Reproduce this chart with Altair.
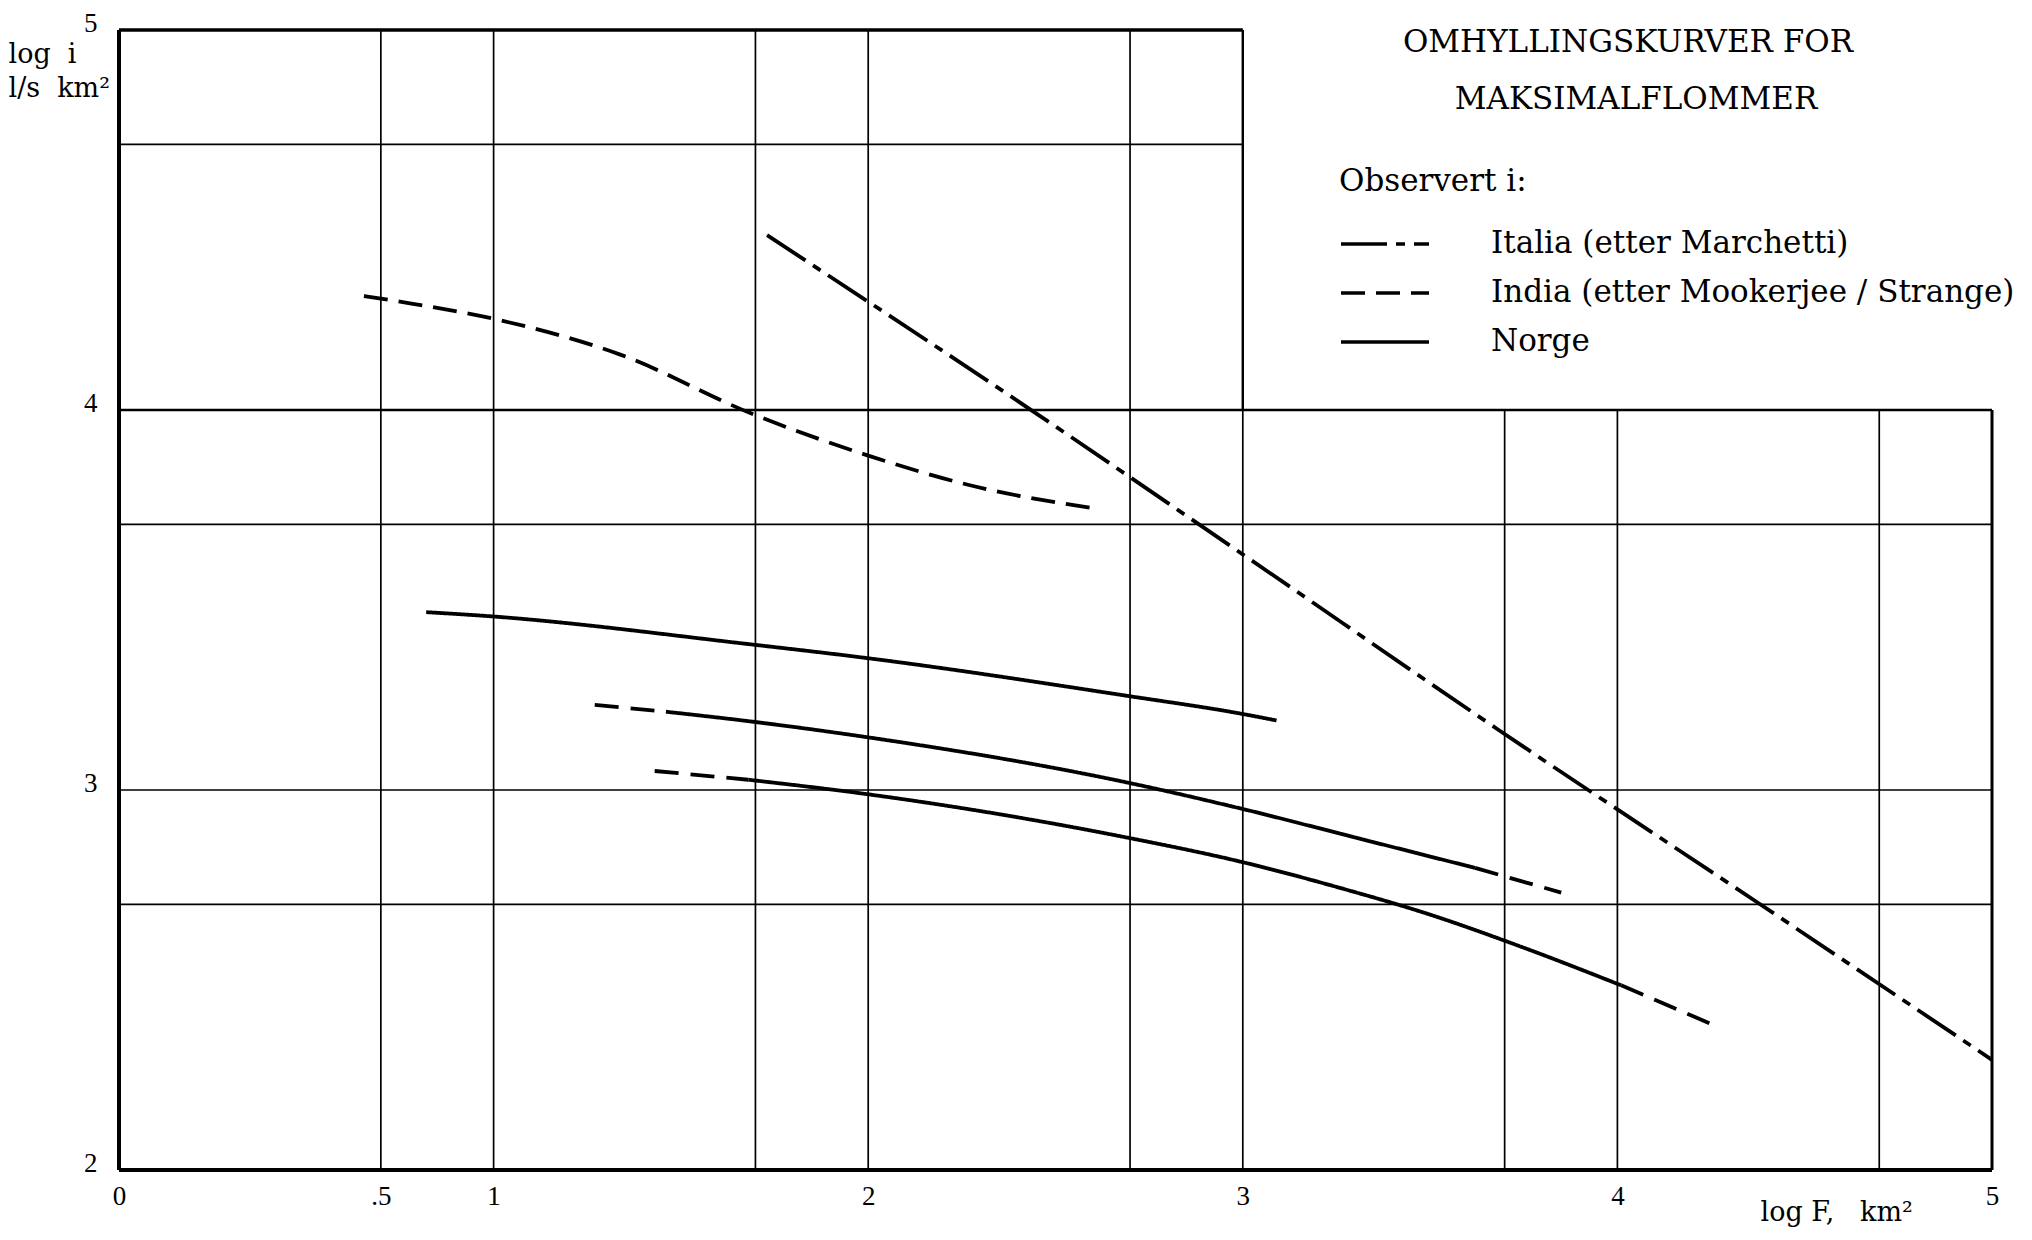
import altair as alt
import pandas as pd

# ---------------- axis ticks and grid (log F, log i) ----------------
x_tick_values = [0, 0.699, 1, 2, 3, 4, 5]
x_tick_labels = ["0", ".5", "1", "2", "3", "4", "5"]
y_tick_values = [2, 3, 4, 5]

grid_x_full = [0.699, 1, 1.699, 2, 2.699, 3]   # vertical lines, log i 2..5
grid_x_lower = [3.699, 4, 4.699]               # vertical lines, log i 2..4
grid_y_full = [2.699, 3, 3.699]                # horizontal lines, log F 0..5
grid_y_upper = [4.699]                         # horizontal line, log F 0..3

# ---------------- curves ----------------
series_names = ["Italia (etter Marchetti)", "India (etter Mookerjee / Strange)", "Norge"]

italia_x = [1.73, 2.45, 3.00, 3.68, 4.38, 5.00]
italia_y = [4.46, 3.99, 3.62, 3.16, 2.70, 2.29]

india_x = [0.654, 0.75, 1.0, 1.34, 1.69, 2.0, 2.28, 2.61]
india_y = [4.30, 4.285, 4.24, 4.145, 3.99, 3.88, 3.80, 3.74]

norge1_x = [0.82, 0.98, 1.68, 1.99, 2.69, 3.00, 3.09]
norge1_y = [3.468, 3.458, 3.384, 3.348, 3.248, 3.20, 3.183]

norge2_x = [1.46, 1.69, 1.99, 2.69, 3.00, 3.30, 3.62]
norge2_y = [3.206, 3.18, 3.14, 3.02, 2.95, 2.875, 2.795]
norge2_start_x = [1.27, 1.46]
norge2_start_y = [3.224, 3.206]
norge2_end_x = [3.62, 3.85]
norge2_end_y = [2.795, 2.73]

norge3_x = [1.68, 1.99, 2.69, 3.00, 3.25, 3.50, 3.75, 4.01]
norge3_y = [3.027, 2.99, 2.875, 2.81, 2.745, 2.672, 2.585, 2.486]
norge3_start_x = [1.43, 1.68]
norge3_start_y = [3.05, 3.027]
norge3_end_x = [4.01, 4.27]
norge3_end_y = [2.486, 2.376]

title_lines = ["OMHYLLINGSKURVER FOR", "MAKSIMALFLOMMER"]
NB = "\u00a0"
y_title_lines = ["log" + NB * 2 + "i", "l/s" + NB * 2 + "km²"]
x_title = "log" + NB + "F," + NB * 3 + "km²"


def frame(xs_, ys_, serie, kurve):
    return pd.DataFrame({"x": xs_, "y": ys_, "serie": serie, "kurve": kurve})


curves = pd.concat([
    frame(italia_x, italia_y, series_names[0], "italia"),
    frame(india_x, india_y, series_names[1], "india"),
    frame(norge1_x, norge1_y, series_names[2], "norge1"),
    frame(norge2_x, norge2_y, series_names[2], "norge2"),
    frame(norge3_x, norge3_y, series_names[2], "norge3"),
], ignore_index=True)

extensions = pd.concat([
    frame(norge2_start_x, norge2_start_y, series_names[2], "n2a"),
    frame(norge2_end_x, norge2_end_y, series_names[2], "n2b"),
    frame(norge3_start_x, norge3_start_y, series_names[2], "n3a"),
    frame(norge3_end_x, norge3_end_y, series_names[2], "n3b"),
], ignore_index=True)

# ---------------- scales / axes ----------------
xs = alt.Scale(domain=[0, 5], nice=False, zero=False)
ys = alt.Scale(domain=[2, 5], nice=False, zero=False)

label_expr = "datum.label"
for v, l in reversed(list(zip(x_tick_values, x_tick_labels))):
    label_expr = f"(abs(datum.value - {v}) < 0.001 ? '{l}' : {label_expr})"

x_axis = alt.Axis(
    values=x_tick_values, labelExpr=label_expr,
    grid=False, domain=False, ticks=False, labelFlush=False,
    labelFont="Liberation Serif", labelFontSize=27, labelColor="black",
    labelPadding=13, labelOffset=0,
    title=x_title, titleFont="DejaVu Serif", titleFontSize=27,
    titleFontWeight="normal", titleColor="black",
    titleX=1641, titleY=42, titleAlign="left", titleBaseline="middle",
)
y_axis = alt.Axis(
    values=y_tick_values, format="d",
    grid=False, domain=False, ticks=False,
    labelFont="Liberation Serif", labelFontSize=27, labelColor="black",
    labelPadding=22, labelBaseline="middle", labelOffset=-7,
    title=y_title_lines, titleFont="DejaVu Serif", titleFontSize=27,
    titleFontWeight="normal", titleColor="black", titleAngle=0,
    titleX=-111, titleY=11, titleAlign="left", titleBaseline="top",
    titleLineHeight=34,
)


def vrules(values, y_from, y_to, width):
    df = pd.DataFrame({"x": values, "y1": y_from, "y2": y_to})
    return alt.Chart(df).mark_rule(color="black", strokeWidth=width).encode(
        x=alt.X("x:Q", scale=xs, axis=x_axis),
        y=alt.Y("y1:Q", scale=ys, axis=y_axis),
        y2="y2:Q")


def hrules(values, x_from, x_to, width):
    df = pd.DataFrame({"y": values, "x1": x_from, "x2": x_to})
    return alt.Chart(df).mark_rule(color="black", strokeWidth=width).encode(
        y=alt.Y("y:Q", scale=ys, axis=y_axis),
        x=alt.X("x1:Q", scale=xs, axis=x_axis),
        x2="x2:Q")


grid_layers = [
    vrules(grid_x_full, 2, 5, 1.7),
    vrules(grid_x_lower, 2, 4, 1.7),
    hrules(grid_y_full, 0, 5, 1.7),
    hrules(grid_y_upper, 0, 3, 1.7),
    hrules([4], 0, 5, 2.3),
    vrules([3], 4, 5, 2.4),
    vrules([5], 2, 4, 3.0),
    hrules([5], 0, 3, 3.4),
    vrules([0], 2, 5, 4.0),
    hrules([2], 0, 5, 4.0),
]

main_lines = alt.Chart(curves).mark_line(
    color="black", strokeWidth=3.8, interpolate="monotone", strokeCap="butt").encode(
    x=alt.X("x:Q", scale=xs, axis=x_axis),
    y=alt.Y("y:Q", scale=ys, axis=y_axis),
    detail="kurve:N",
    strokeDash=alt.StrokeDash(
        "serie:N",
        scale=alt.Scale(domain=series_names, range=[[46, 9, 9, 9], [24, 11], [1, 0]]),
        legend=alt.Legend(
            title="Observert i:", orient="none", legendX=1220, legendY=137,
            symbolType="stroke", symbolSize=7744, symbolStrokeWidth=3.5,
            symbolStrokeColor="black",
            labelFont="DejaVu Serif", labelFontSize=31, labelColor="black",
            labelOffset=60, labelLimit=900,
            titleFont="DejaVu Serif", titleFontSize=31, titleFontWeight="normal",
            titleColor="black", titleLimit=900, titlePadding=29,
            clipHeight=34, rowPadding=15,
        ),
    ),
)

ext_lines = alt.Chart(extensions).mark_line(
    color="black", strokeWidth=3.8, strokeDash=[24, 12], strokeCap="butt").encode(
    x=alt.X("x:Q", scale=xs, axis=x_axis),
    y=alt.Y("y:Q", scale=ys, axis=y_axis),
    detail="kurve:N",
)

title1 = alt.Chart(pd.DataFrame({"t": [title_lines[0]]})).mark_text(
    font="DejaVu Serif", fontSize=31, color="black", align="center", baseline="middle").encode(
    text="t:N", x=alt.value(1509), y=alt.value(13))
title2 = alt.Chart(pd.DataFrame({"t": [title_lines[1]]})).mark_text(
    font="DejaVu Serif", fontSize=31, color="black", align="center", baseline="middle").encode(
    text="t:N", x=alt.value(1517), y=alt.value(70))

chart = alt.layer(*grid_layers, main_lines, ext_lines, title1, title2).properties(
    width=1873, height=1140,
    autosize=alt.AutoSizeParams(type="none"),
    padding={"left": 111, "top": 22, "right": 32, "bottom": 60},
    background="white",
).configure_view(stroke=None)

chart.save("out.html", embed_options={"renderer": "svg", "actions": False})
